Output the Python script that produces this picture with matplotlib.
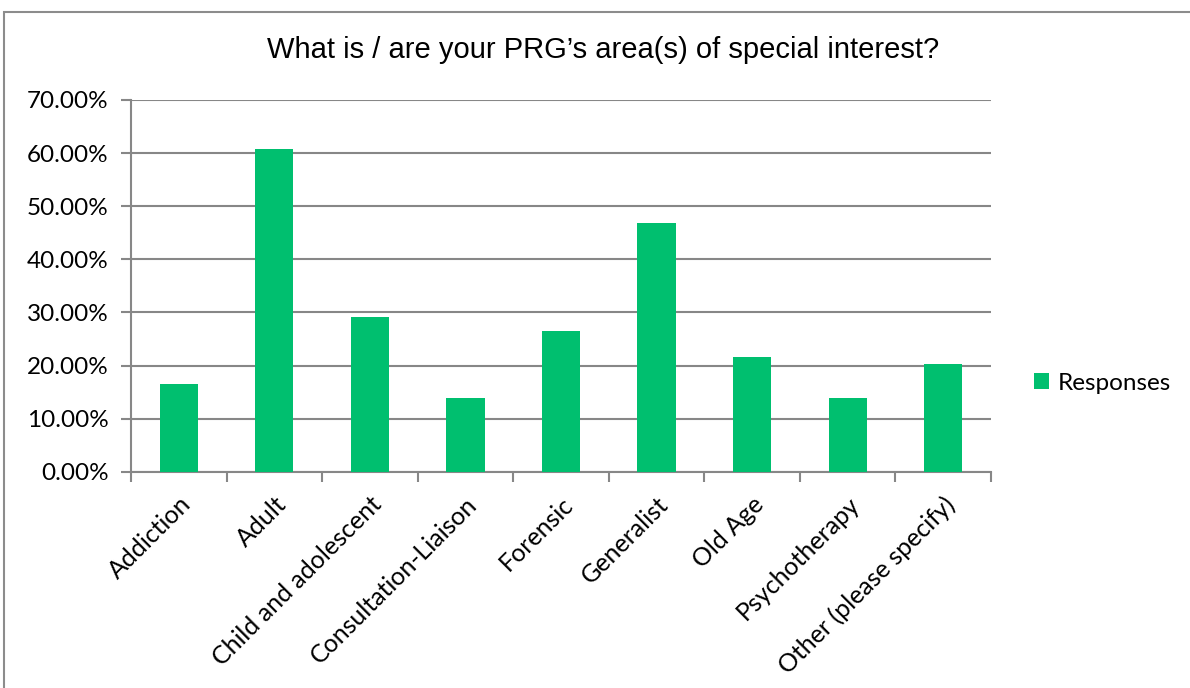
import numpy as np
import matplotlib.pyplot as plt
from matplotlib.patches import Rectangle
from matplotlib.ticker import FuncFormatter

categories = ['Addiction', 'Adult', 'Child and adolescent', 'Consultation-Liaison',
              'Forensic', 'Generalist', 'Old Age', 'Psychotherapy', 'Other (please specify)']
# share of 79 respondents
responses = [16.46, 60.76, 29.11, 13.92, 26.58, 46.84, 21.52, 13.92, 20.25]
yticks = [0, 10, 20, 30, 40, 50, 60, 70]

green = '#00BF6F'
grey = '#878787'
label_font = 'Lato'

fig = plt.figure(figsize=(11.9, 6.88), dpi=100)
ax = fig.add_axes([131 / 1190, 1 - 471.7 / 688, 860 / 1190, 371.7 / 688])

x = np.arange(len(categories))
ax.bar(x, responses, width=0.4, color=green, zorder=3, label='Responses')

ax.set_xlim(-0.5, len(categories) - 0.5)
ax.set_ylim(0, 70)
ax.set_yticks(yticks)
ax.yaxis.set_major_formatter(FuncFormatter(lambda v, p: f'{v:.2f}%'))
ax.grid(axis='y', color=grey, linewidth=1.5, zorder=0)

ax.set_xticks(x)
ax.set_xticklabels(categories, rotation=45, ha='right', rotation_mode='anchor')
ax.set_xticks(np.arange(-0.5, len(categories)), minor=True)
ax.tick_params(axis='x', which='major', length=0, pad=15)
ax.tick_params(axis='x', which='minor', length=7, width=1.5, color=grey)
ax.tick_params(axis='y', length=7, width=1.5, color=grey, pad=9)
for lab in ax.get_xticklabels():
    lab.set_fontfamily(label_font)
    lab.set_fontsize(18)
for lab in ax.get_yticklabels():
    lab.set_fontfamily(label_font)
    lab.set_fontsize(17.5)

for s in ['top', 'right']:
    ax.spines[s].set_visible(False)
for s in ['left', 'bottom']:
    ax.spines[s].set_color(grey)
    ax.spines[s].set_linewidth(1.5)

fig.text(0.5 * (265 + 942) / 1190, 1 - 50 / 688,
         'What is / are your PRG\u2019s area(s) of special interest?',
         ha='center', va='center', fontsize=21, family='Liberation Sans')

fig.legend(loc='center left', bbox_to_anchor=(1034 / 1190, 1 - 383 / 688),
           frameon=False, prop={'family': label_font, 'size': 17.5},
           borderaxespad=0, borderpad=0,
           handlelength=0.6, handleheight=0.6, handletextpad=0.37)

fig.patches.append(Rectangle((4 / 1190, -0.1), 1.2, 1.1 - 12 / 688, transform=fig.transFigure,
                             fill=False, edgecolor='#8c8c8c', linewidth=1.5))

fig.savefig('out.png', dpi=100)
